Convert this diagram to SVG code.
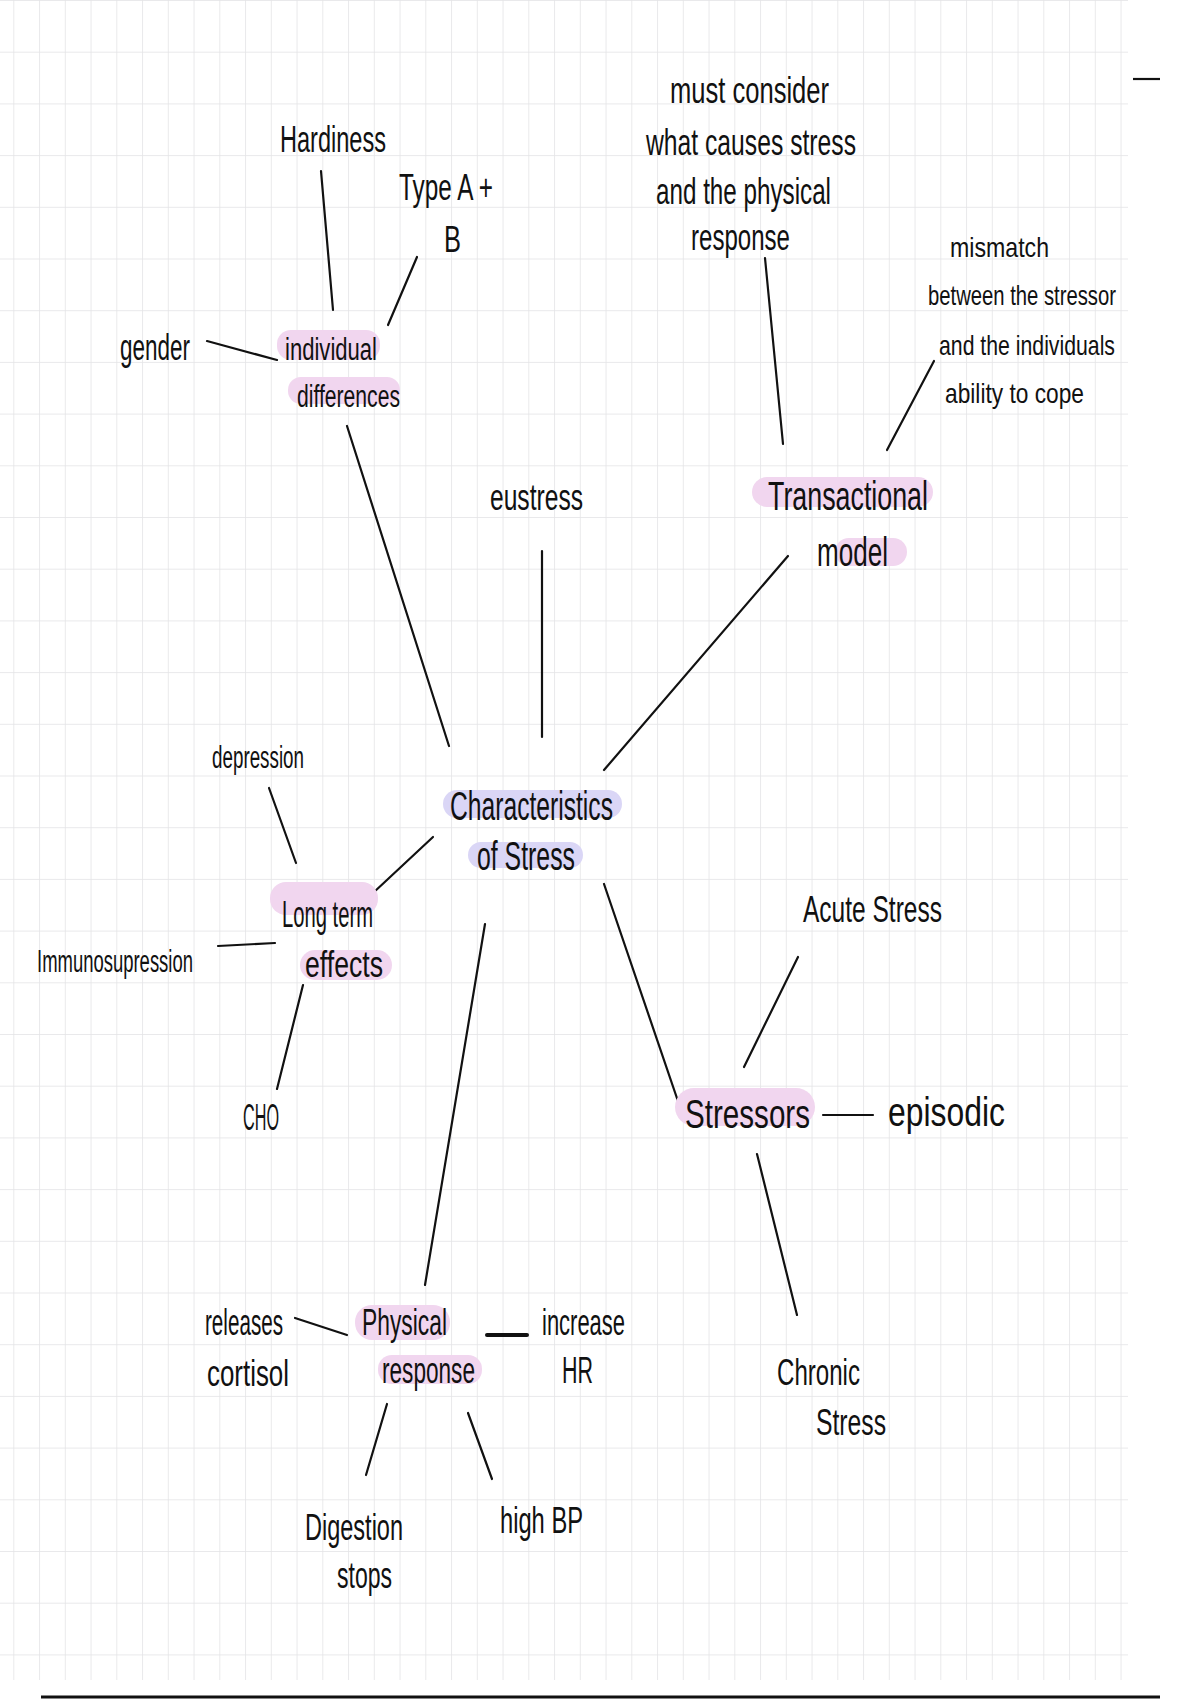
<svg xmlns="http://www.w3.org/2000/svg" width="1200" height="1700" viewBox="0 0 1200 1700">
<style>
text{font-family:"Liberation Sans Narrow","Liberation Sans",Arial,sans-serif;fill:#111;}
.t{font-size:36px;}
.s{font-size:31px;}
.m{font-size:28px;}
.b{font-size:41px;}
.hp{fill:#f1d6ef;}
.hl{fill:#dad6f6;}
.c line{stroke:#111;stroke-width:2.2;stroke-linecap:round;}
</style>
<defs>
<pattern id="grid" x="13.3" y="51.7" width="25.75" height="51.7" patternUnits="userSpaceOnUse">
<line x1="0" y1="0" x2="0" y2="51.7" stroke="#e4e4e6" stroke-width="1.6"/>
<line x1="0" y1="0" x2="25.75" y2="0" stroke="#e4e4e6" stroke-width="1.6"/>
</pattern>
</defs>
<rect width="1200" height="1700" fill="#ffffff"/>
<rect x="0" y="0" width="1128" height="1680" fill="url(#grid)"/>
<line x1="1133" y1="79" x2="1160" y2="79" stroke="#111" stroke-width="2.2"/>
<line x1="41" y1="1697" x2="1160" y2="1697" stroke="#111" stroke-width="3"/>

<g id="connectors" class="c">
<line x1="321" y1="171" x2="333" y2="310"/>
<line x1="417" y1="257" x2="388" y2="325"/>
<line x1="207" y1="341" x2="277" y2="360"/>
<line x1="347" y1="426" x2="449" y2="746"/>
<line x1="542" y1="551" x2="542" y2="737"/>
<line x1="788" y1="556" x2="604" y2="770"/>
<line x1="765" y1="258" x2="783" y2="444"/>
<line x1="934" y1="361" x2="887" y2="450"/>
<line x1="433" y1="837" x2="373" y2="893"/>
<line x1="269" y1="788" x2="296" y2="863"/>
<line x1="218" y1="946" x2="275" y2="943"/>
<line x1="303" y1="985" x2="277" y2="1089"/>
<line x1="485" y1="924" x2="425" y2="1285"/>
<line x1="604" y1="884" x2="681" y2="1110"/>
<line x1="798" y1="957" x2="744" y2="1067"/>
<line x1="823" y1="1115" x2="873" y2="1115"/>
<line x1="757" y1="1154" x2="797" y2="1315"/>
<line x1="295" y1="1318" x2="347" y2="1335"/>
<line x1="487" y1="1335" x2="527" y2="1335" style="stroke-width:4"/>
<line x1="387" y1="1404" x2="366" y2="1475"/>
<line x1="468" y1="1413" x2="492" y2="1479"/>
</g>

<g id="hardiness"><text class="t" x="280" y="152" textLength="106" lengthAdjust="spacingAndGlyphs">Hardiness</text></g>
<g id="type-ab">
<text class="t" x="399" y="200" textLength="94" lengthAdjust="spacingAndGlyphs">Type A +</text>
<text class="t" x="444" y="252" textLength="17" lengthAdjust="spacingAndGlyphs">B</text>
</g>
<g id="gender"><text class="t" x="120" y="360" textLength="70" lengthAdjust="spacingAndGlyphs">gender</text></g>
<g id="individual-differences">
<rect class="hp" x="277" y="330" width="103" height="30" rx="14"/>
<rect class="hp" x="288" y="377" width="112" height="27" rx="13"/>
<text class="s" x="285" y="360" textLength="92" lengthAdjust="spacingAndGlyphs">individual</text>
<text class="s" x="297" y="407" textLength="103" lengthAdjust="spacingAndGlyphs">differences</text>
</g>
<g id="eustress"><text class="t" x="490" y="510" textLength="93" lengthAdjust="spacingAndGlyphs">eustress</text></g>
<g id="must-consider">
<text class="t" x="670" y="103" textLength="159" lengthAdjust="spacingAndGlyphs">must consider</text>
<text class="t" x="646" y="155" textLength="210" lengthAdjust="spacingAndGlyphs">what causes stress</text>
<text class="t" x="656" y="204" textLength="175" lengthAdjust="spacingAndGlyphs">and the physical</text>
<text class="t" x="691" y="250" textLength="99" lengthAdjust="spacingAndGlyphs">response</text>
</g>
<g id="mismatch">
<text class="m" x="950" y="257" textLength="99" lengthAdjust="spacingAndGlyphs">mismatch</text>
<text class="m" x="928" y="305" textLength="188" lengthAdjust="spacingAndGlyphs">between the stressor</text>
<text class="m" x="939" y="355" textLength="176" lengthAdjust="spacingAndGlyphs">and the individuals</text>
<text class="m" x="945" y="403" textLength="139" lengthAdjust="spacingAndGlyphs">ability to cope</text>
</g>
<g id="transactional-model">
<rect class="hp" x="752" y="477" width="181" height="30" rx="15"/>
<rect class="hp" x="835" y="538" width="72" height="28" rx="14"/>
<text class="b" x="768" y="510" textLength="160" lengthAdjust="spacingAndGlyphs">Transactional</text>
<text class="b" x="817" y="566" textLength="71" lengthAdjust="spacingAndGlyphs">model</text>
</g>
<g id="characteristics-of-stress">
<rect class="hl" x="443" y="790" width="179" height="28" rx="14"/>
<rect class="hl" x="468" y="842" width="115" height="26" rx="13"/>
<text class="b" x="450" y="820" textLength="163" lengthAdjust="spacingAndGlyphs">Characteristics</text>
<text class="b" x="477" y="870" textLength="98" lengthAdjust="spacingAndGlyphs">of Stress</text>
</g>
<g id="depression"><text class="s" x="212" y="768" textLength="92" lengthAdjust="spacingAndGlyphs">depression</text></g>
<g id="long-term-effects">
<rect class="hp" x="270" y="882" width="108" height="33" rx="16"/>
<rect class="hp" x="300" y="950" width="92" height="30" rx="15"/>
<text class="t" x="282" y="927" textLength="91" lengthAdjust="spacingAndGlyphs">Long term</text>
<text class="t" x="305" y="977" textLength="78" lengthAdjust="spacingAndGlyphs">effects</text>
</g>
<g id="immunosupression"><text class="s" x="37" y="972" textLength="156" lengthAdjust="spacingAndGlyphs">Immunosupression</text></g>
<g id="cho"><text class="t" x="243" y="1130" textLength="36" lengthAdjust="spacingAndGlyphs">CHO</text></g>
<g id="acute-stress"><text class="t" x="803" y="922" textLength="139" lengthAdjust="spacingAndGlyphs">Acute Stress</text></g>
<g id="stressors">
<rect class="hp" x="675" y="1088" width="140" height="38" rx="19"/>
<text class="b" x="685" y="1128" textLength="125" lengthAdjust="spacingAndGlyphs">Stressors</text>
</g>
<g id="episodic"><text class="b" x="888" y="1126" textLength="117" lengthAdjust="spacingAndGlyphs">episodic</text></g>
<g id="chronic-stress">
<text class="t" x="777" y="1385" textLength="83" lengthAdjust="spacingAndGlyphs">Chronic</text>
<text class="t" x="816" y="1435" textLength="70" lengthAdjust="spacingAndGlyphs">Stress</text>
</g>
<g id="releases-cortisol">
<text class="t" x="205" y="1335" textLength="78" lengthAdjust="spacingAndGlyphs">releases</text>
<text class="t" x="207" y="1386" textLength="82" lengthAdjust="spacingAndGlyphs">cortisol</text>
</g>
<g id="physical-response">
<rect class="hp" x="355" y="1305" width="95" height="35" rx="17"/>
<rect class="hp" x="378" y="1355" width="104" height="29" rx="14"/>
<text class="t" x="362" y="1335" textLength="85" lengthAdjust="spacingAndGlyphs">Physical</text>
<text class="t" x="382" y="1383" textLength="93" lengthAdjust="spacingAndGlyphs">response</text>
</g>
<g id="increase-hr">
<text class="t" x="542" y="1335" textLength="83" lengthAdjust="spacingAndGlyphs">increase</text>
<text class="t" x="562" y="1383" textLength="31" lengthAdjust="spacingAndGlyphs">HR</text>
</g>
<g id="digestion-stops">
<text class="t" x="305" y="1540" textLength="98" lengthAdjust="spacingAndGlyphs">Digestion</text>
<text class="t" x="337" y="1588" textLength="55" lengthAdjust="spacingAndGlyphs">stops</text>
</g>
<g id="high-bp"><text class="t" x="500" y="1533" textLength="83" lengthAdjust="spacingAndGlyphs">high BP</text></g>
</svg>
